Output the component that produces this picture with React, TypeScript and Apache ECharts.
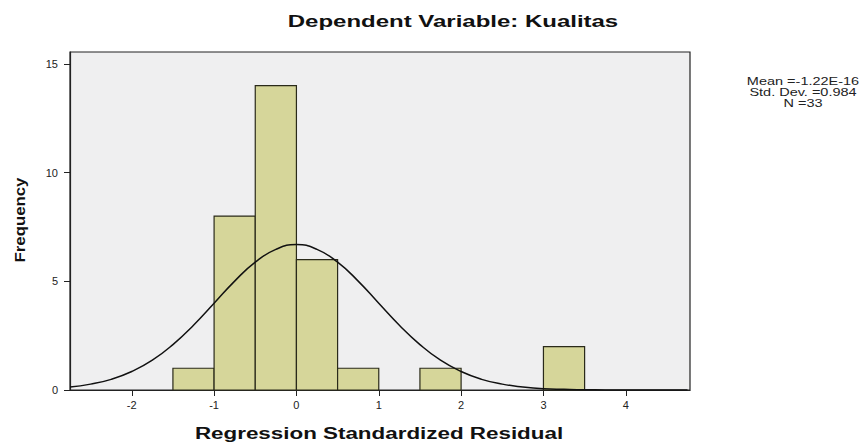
import React, { useEffect, useRef } from "react";
import * as echarts from "echarts";

// Histogram bins: [start, end, frequency]
const binStarts = [-1.5, -1.0, -0.5, 0.0, 0.5, 1.5, 3.0];
const binEnds = [-1.0, -0.5, 0.0, 0.5, 1.0, 2.0, 3.5];
const frequencies = [1, 8, 14, 6, 1, 1, 2];

// Normal curve
const curveX = [-2.75, -2.5, -2.25, -2.0, -1.75, -1.5, -1.25, -1.0, -0.75, -0.5, -0.25, 0.0, 0.25, 0.5, 0.75, 1.0, 1.25, 1.5, 1.75, 2.0, 2.25, 2.5, 2.75, 3.0, 3.25, 3.5, 3.75, 4.0, 4.25, 4.5, 4.75];
const curveY = [0.14, 0.27, 0.49, 0.85, 1.37, 2.09, 2.98, 3.99, 5.01, 5.88, 6.47, 6.69, 6.47, 5.88, 5.01, 3.99, 2.98, 2.09, 1.37, 0.85, 0.49, 0.27, 0.14, 0.06, 0.03, 0.01, 0.005, 0.002, 0.001, 0.0, 0.0];

const xTicks = [-2, -1, 0, 1, 2, 3, 4];
const yTicks = [0, 5, 10, 15];

const titleText = "Dependent Variable: Kualitas";
const xLabel = "Regression Standardized Residual";
const yLabel = "Frequency";
const statLines = ["Mean =-1.22E-16", "Std. Dev. =0.984", "N =33"];

export default function App() {
  const ref = useRef<HTMLDivElement>(null);
  useEffect(() => {
    if (!ref.current) return;
    const chart = echarts.init(ref.current, undefined, { renderer: "svg" });
    const font = "Liberation Sans, Arial, sans-serif";
    const barData = binStarts.map((s, i) => [s, binEnds[i], frequencies[i]]);
    chart.setOption({
      animation: false,
      backgroundColor: "#ffffff",
      textStyle: { fontFamily: font },
      grid: {
        left: 70,
        right: 178,
        top: 52,
        bottom: 55,
        show: true,
        backgroundColor: "#efeff0",
        borderColor: "#222",
        borderWidth: 1.2,
      },
      xAxis: {
        type: "value",
        min: -2.75,
        max: 4.78,
        splitLine: { show: false },
        axisLine: { show: true, onZero: false, lineStyle: { color: "#222", width: 1.2 } },
        axisTick: { show: true, length: 6, lineStyle: { color: "#222" }, customValues: xTicks },
        axisLabel: { fontSize: 11, color: "#222", margin: 9, customValues: xTicks },
      },
      yAxis: {
        type: "value",
        min: 0,
        max: 15.55,
        splitLine: { show: false },
        axisLine: { show: true, onZero: false, lineStyle: { color: "#222", width: 1.2 } },
        axisTick: { show: true, length: 6, lineStyle: { color: "#222" }, customValues: yTicks },
        axisLabel: { fontSize: 11, color: "#222", margin: 12, customValues: yTicks },
      },
      graphic: [
        {
          type: "text",
          x: 453,
          y: 22,
          scaleX: 1.5,
          style: {
            text: titleText,
            fontSize: 16,
            fontWeight: "bold",
            fill: "#111",
            align: "center",
            verticalAlign: "middle",
            fontFamily: font,
          },
        },
        {
          type: "text",
          x: 379,
          y: 433,
          scaleX: 1.4,
          style: {
            text: xLabel,
            fontSize: 16,
            fontWeight: "bold",
            fill: "#111",
            align: "center",
            verticalAlign: "middle",
            fontFamily: font,
          },
        },
        {
          type: "text",
          x: 20,
          y: 220,
          rotation: Math.PI / 2,
          scaleX: 1.2,
          style: {
            text: yLabel,
            fontSize: 14,
            fontWeight: "bold",
            fill: "#111",
            align: "center",
            verticalAlign: "middle",
            fontFamily: font,
          },
        },
        {
          type: "text",
          x: 803,
          y: 93,
          scaleX: 1.45,
          style: {
            text: statLines.join("\n"),
            fontSize: 10,
            lineHeight: 11,
            fill: "#222",
            align: "center",
            verticalAlign: "middle",
            fontFamily: font,
          },
        },
      ],
      series: [
        {
          type: "custom",
          data: barData,
          encode: { x: [0, 1], y: 2 },
          renderItem: (params: any, api: any) => {
            const p0 = api.coord([api.value(0), api.value(2)]);
            const p1 = api.coord([api.value(1), 0]);
            return {
              type: "rect",
              shape: { x: p0[0], y: p0[1], width: p1[0] - p0[0], height: p1[1] - p0[1] },
              style: { fill: "#d6d69a", stroke: "#2a2a1a", lineWidth: 1.2 },
            };
          },
          z: 2,
        },
        {
          type: "line",
          data: curveX.map((x, i) => [x, curveY[i]]),
          smooth: true,
          showSymbol: false,
          lineStyle: { color: "#111", width: 1.5 },
          z: 3,
        },
      ],
    });
    return () => chart.dispose();
  }, []);
  return (
    <div
      ref={ref}
      style={{ position: "fixed", left: 0, top: 0, width: 868, height: 445 }}
    />
  );
}
